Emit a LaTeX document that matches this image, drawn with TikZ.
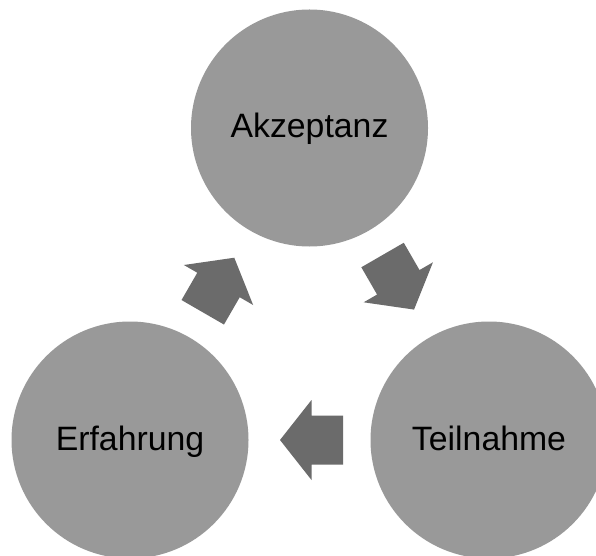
\documentclass[tikz,border=0pt]{standalone}
\usepackage{fontspec}
\setmainfont{Liberation Sans}
\definecolor{circgray}{HTML}{999999}
\definecolor{arrgray}{HTML}{6B6B6B}
\tikzset{
  stage/.style={circle, fill=circgray, minimum size=237pt, inner sep=0pt},
  stagetext/.style={anchor=base, font=\fontsize{33.8}{36}\selectfont, text=black, inner sep=0pt},
  blockarrow/.style={fill=arrgray}
}
\newcommand{\cyclearrow}[3]{%
  \fill[blockarrow, shift={(#1,#2)}, rotate=#3]
    (-31.5,-24.5) -- (0,-24.5) -- (0,-40) -- (31.5,0) -- (0,40) -- (0,24.5) -- (-31.5,24.5) -- cycle;}
\begin{document}
\begin{tikzpicture}[x=1pt,y=1pt]
  \useasboundingbox (0,0) rectangle (596,555);
  \fill[white] (0,0) rectangle (596,555);
  \clip (0,0) rectangle (596,555);
  \node[stage] (akz) at (309.5,427) {};
  \node[stage] (erf) at (130,115) {};
  \node[stage] (teil) at (489,115) {};
  \node[stagetext] (akzt) at ([yshift=-10pt]akz.center) {Akzeptanz};
  \node[stagetext] (erft) at ([yshift=-10pt]erf.center) {Erfahrung};
  \node[stagetext] (teilt) at ([yshift=-10pt]teil.center) {Teilnahme};
  \cyclearrow{398.3}{272.7}{-60}
  \cyclearrow{311.5}{115}{180}
  \cyclearrow{218.5}{270}{60}
\end{tikzpicture}
\end{document}
